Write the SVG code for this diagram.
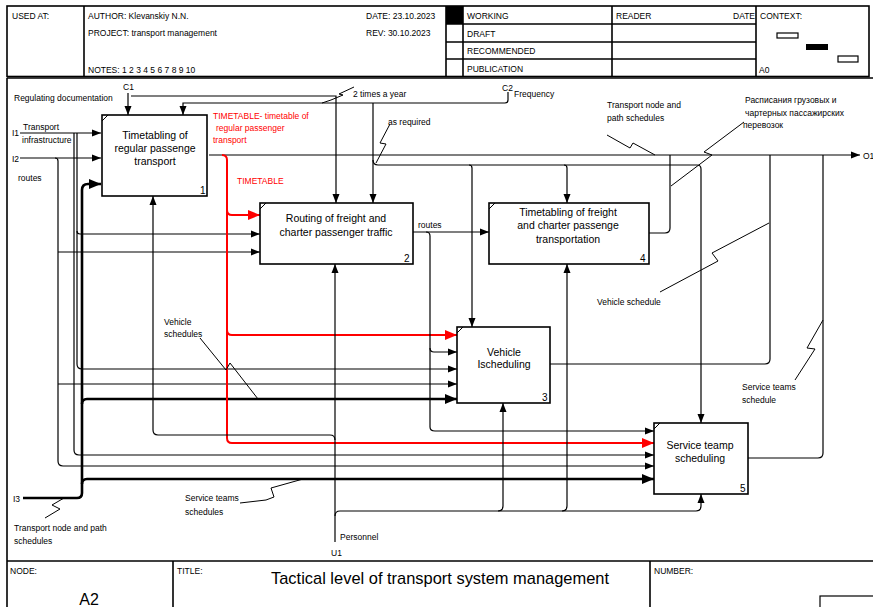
<svg xmlns="http://www.w3.org/2000/svg" width="873" height="607" viewBox="0 0 873 607">
<style>
text{font-family:"Liberation Sans",Arial,sans-serif;fill:#000}
.h{font-size:8.5px}
.s{font-size:8.5px}
.b{font-size:10.5px;text-anchor:middle}
.n{font-size:10px}
.red{fill:#f00}
.frame{fill:none;stroke:#000;stroke-width:1.6}
.box{fill:#fff;stroke:#000;stroke-width:1.6}
.c{fill:none;stroke:#000;stroke-width:1.2}
.t{fill:none;stroke:#000;stroke-width:2.6}
.r{fill:none;stroke:#f00;stroke-width:2}
.l{fill:none;stroke:#000;stroke-width:1}
</style>
<defs>
<marker id="a" markerWidth="9" markerHeight="8" refX="9" refY="4" orient="auto" markerUnits="userSpaceOnUse"><path d="M0,0.5 L9,4 L0,7.5 z" fill="#000"/></marker>
<marker id="at" markerWidth="12" markerHeight="10" refX="12" refY="5" orient="auto" markerUnits="userSpaceOnUse"><path d="M0,0 L12,5 L0,10 z" fill="#000"/></marker>
<marker id="ar" markerWidth="12" markerHeight="10" refX="12" refY="5" orient="auto" markerUnits="userSpaceOnUse"><path d="M0,0 L12,5 L0,10 z" fill="#f00"/></marker>
</defs>
<rect width="873" height="607" fill="#fff"/>
<g id="header">
<rect class="frame" x="7" y="6" width="862" height="70.5"/>
<line class="frame" x1="7" y1="78" x2="873" y2="78"/>
<line class="frame" x1="84" y1="6" x2="84" y2="77"/>
<line class="frame" x1="446" y1="6" x2="446" y2="77"/>
<line class="frame" x1="463" y1="6" x2="463" y2="77"/>
<line class="frame" x1="612" y1="6" x2="612" y2="77"/>
<line class="frame" x1="756" y1="6" x2="756" y2="77"/>
<line class="frame" x1="446" y1="24" x2="756" y2="24"/>
<line class="frame" x1="446" y1="42" x2="756" y2="42"/>
<line class="frame" x1="446" y1="59" x2="756" y2="59"/>
<rect x="446" y="6" width="17" height="18" fill="#000"/>
<text class="h" x="12" y="19">USED AT:</text>
<text class="h" x="88" y="19">AUTHOR:  Klevanskiy N.N.</text>
<text class="h" x="88" y="36">PROJECT:  transport management</text>
<text class="h" x="88" y="73">NOTES:  1  2  3  4  5  6  7  8  9  10</text>
<text class="h" x="366" y="19">DATE:  23.10.2023</text>
<text class="h" x="366" y="36">REV:    30.10.2023</text>
<text class="h" x="467" y="19">WORKING</text>
<text class="h" x="467" y="37">DRAFT</text>
<text class="h" x="467" y="54">RECOMMENDED</text>
<text class="h" x="467" y="72">PUBLICATION</text>
<text class="h" x="616" y="19">READER</text>
<text class="h" x="733" y="19">DATE</text>
<text class="h" x="760" y="19">CONTEXT:</text>
<text class="h" x="759" y="73">A0</text>
<rect x="777" y="33" width="21" height="5" fill="#fff" stroke="#000" stroke-width="1.2"/>
<rect x="806" y="44" width="22" height="6" fill="#000"/>
<rect x="838" y="56" width="20" height="6" fill="#fff" stroke="#000" stroke-width="1.2"/>
</g>
<g id="footer">
<line class="frame" x1="7" y1="78" x2="7" y2="607"/>
<line class="frame" x1="7" y1="561" x2="873" y2="561"/>
<line class="frame" x1="173" y1="561" x2="173" y2="607"/>
<line class="frame" x1="650" y1="561" x2="650" y2="607"/>
<text class="h" x="10" y="574">NODE:</text>
<text class="h" x="177" y="574">TITLE:</text>
<text class="h" x="654" y="574">NUMBER:</text>
<text x="440" y="584" font-size="17" text-anchor="middle" textLength="338" lengthAdjust="spacingAndGlyphs">Tactical level of  transport system management</text>
<text x="89" y="605" font-size="16" text-anchor="middle">A2</text>
<rect x="820" y="596" width="60" height="14" fill="#fff" stroke="#000" stroke-width="1.2"/>
</g>
<g id="connectors">
<!-- C1 -->
<path class="c" d="M128,93 V115" marker-end="url(#a)"/>
<path class="c" d="M131,96 H336 V203" marker-end="url(#a)"/>
<!-- C2 -->
<path class="c" d="M508,92 V100 Q508,103 505,103 H183 V115" marker-end="url(#a)"/>
<path class="c" d="M373,103 V203" marker-end="url(#a)"/>
<path class="c" d="M373,160 Q373,165 378,165 H697 Q701,165 701,169 V423" marker-end="url(#a)"/>
<path class="c" d="M469,165 Q472,165 472,168 V327" marker-end="url(#a)"/>
<path class="c" d="M564,165 Q567,165 567,168 V203" marker-end="url(#a)"/>
<!-- I1 -->
<path class="c" d="M20,133 H101" marker-end="url(#a)"/>
<path class="c" d="M74,133 V450 Q74,455 79,455 H654" marker-end="url(#a)"/>
<path class="c" d="M77,133 V364 Q77,369 82,369 H457" marker-end="url(#a)"/>
<path class="c" d="M77,231 Q77,234 80,234 H260" marker-end="url(#a)"/>
<!-- I2 -->
<path class="c" d="M20,158 H101" marker-end="url(#a)"/>
<path class="c" d="M55,158 Q58,158 58,161 V461 Q58,466 63,466 H654" marker-end="url(#a)"/>
<path class="c" d="M58,252 H260" marker-end="url(#a)"/>
<path class="c" d="M58,384 H457" marker-end="url(#a)"/>
<!-- I3 -->
<path class="t" d="M23,498 H77 Q82,498 82,493 V190 Q82,184 88,184 H101" marker-end="url(#at)"/>
<path class="t" d="M82,404 Q82,399 87,399 H457" marker-end="url(#at)"/>
<path class="t" d="M82,484 Q82,479 87,479 H654" marker-end="url(#at)"/>
<!-- O1 -->
<path class="c" d="M209,155 H860" marker-end="url(#a)"/>
<!-- TIMETABLE red -->
<path class="r" d="M222,155 Q227,155 227,160 V438 Q227,443 232,443 H654" marker-end="url(#ar)"/>
<path class="r" d="M227,210 Q227,215 232,215 H260" marker-end="url(#ar)"/>
<path class="r" d="M227,330 Q227,335 232,335 H457" marker-end="url(#ar)"/>
<!-- routes from box 2 -->
<path class="c" d="M413,232 H489" marker-end="url(#a)"/>
<path class="c" d="M426,232 Q430,232 430,236 V427 Q430,431 435,431 H654" marker-end="url(#a)"/>
<path class="c" d="M430,348 Q430,352 434,352 H457" marker-end="url(#a)"/>
<!-- outputs to O1 -->
<path class="c" d="M649,233 H665 Q670,233 670,228 V155"/>
<path class="c" d="M550,364 H765 Q770,364 770,359 V155"/>
<path class="c" d="M748,458 H818 Q823,458 823,453 V155"/>
<!-- U1 Personnel -->
<path class="c" d="M335,542 V264" marker-end="url(#a)"/>
<path class="c" d="M335,440 Q335,435 330,435 H158 Q153,435 153,430 V196" marker-end="url(#a)"/>
<path class="c" d="M335,516 Q335,511 340,511 H498 Q503,511 503,506 V403" marker-end="url(#a)"/>
<path class="c" d="M498,511 H562 Q567,511 567,506 V264" marker-end="url(#a)"/>
<path class="c" d="M562,511 H696 Q701,511 701,506 V494" marker-end="url(#a)"/>
<!-- leaders -->
<path class="l" d="M354,87 L339,94 L343,95 L331,100 L322,103"/>
<path class="l" d="M390,124 L380,143 L386,144 L376,163"/>
<path class="l" d="M607,135 L630,148 L633,143 L655,155"/>
<path class="l" d="M744,122 L704,152 L712,155 L671,186"/>
<path class="l" d="M660,292 L718,261 L712,253 L769,223"/>
<path class="l" d="M795,380 L815,349 L807,348 L823,320"/>
<path class="l" d="M200,338 L226,370 L230,363 L258,399"/>
<path class="l" d="M240,503 L266,500 L274,497 L271,488 L303,479"/>
<path class="l" d="M45,518 L60,509 L52,505 L64,498"/>
</g>
<g id="box1">
<rect class="box" x="102" y="115" width="105" height="81"/>
<line class="l" x1="102" y1="121" x2="108" y2="115"/>
<text class="b" x="155" y="139">Timetabling of</text>
<text class="b" x="155" y="152">regular passenge</text>
<text class="b" x="155" y="165">transport</text>
<text class="n" x="200" y="194">1</text>
</g>
<g id="box2">
<rect class="box" x="260" y="203" width="153" height="61"/>
<line class="l" x1="260" y1="209" x2="266" y2="203"/>
<text class="b" x="336" y="222">Routing of freight and</text>
<text class="b" x="336" y="236">charter passenger traffic</text>
<text class="n" x="404" y="262">2</text>
</g>
<g id="box4">
<rect class="box" x="489" y="203" width="160" height="61"/>
<line class="l" x1="489" y1="209" x2="495" y2="203"/>
<text class="b" x="568" y="216">Timetabling of freight</text>
<text class="b" x="568" y="229">and charter passenge</text>
<text class="b" x="568" y="243">transportation</text>
<text class="n" x="640" y="262">4</text>
</g>
<g id="box3">
<rect class="box" x="457" y="327" width="93" height="76"/>
<line class="l" x1="457" y1="333" x2="463" y2="327"/>
<text class="b" x="504" y="356">Vehicle</text>
<text class="b" x="504" y="368">Ischeduling</text>
<text class="n" x="542" y="401">3</text>
</g>
<g id="box5">
<rect class="box" x="654" y="423" width="94" height="71"/>
<line class="l" x1="654" y1="429" x2="660" y2="423"/>
<text class="b" x="700" y="449">Service teamp</text>
<text class="b" x="700" y="462">scheduling</text>
<text class="n" x="740" y="492">5</text>
</g>
<g id="labels">
<text class="s" x="14" y="101">Regulating documentation</text>
<text class="s" x="123" y="90">C1</text>
<text class="s" x="12" y="136">I1</text>
<text class="s" x="23" y="130">Transport</text>
<text class="s" x="22" y="143">infrastructure</text>
<text class="s" x="12" y="162">I2</text>
<text class="s" x="18" y="181">routes</text>
<text class="s" x="13" y="502">I3</text>
<text class="s" x="14" y="531">Transport node and path</text>
<text class="s" x="14" y="544">schedules</text>
<text class="s" x="353" y="97">2 times a year</text>
<text class="s" x="502" y="91">C2</text>
<text class="s" x="514" y="97">Frequency</text>
<text class="s" x="388" y="125">as required</text>
<text class="s red" x="213" y="119">TIMETABLE- timetable of</text>
<text class="s red" x="216" y="131">regular passenger</text>
<text class="s red" x="213" y="143">transport</text>
<text class="s red" x="237" y="184">TIMETABLE</text>
<text class="s" x="418" y="228">routes</text>
<text class="s" x="607" y="108">Transport node and</text>
<text class="s" x="607" y="121">path schedules</text>
<text class="s" x="745" y="103">Расписания грузовых и</text>
<text class="s" x="745" y="116">чартерных пассажирских</text>
<text class="s" x="743" y="128">перевозок</text>
<text class="s" x="863" y="159">O1</text>
<text class="s" x="597" y="305">Vehicle schedule</text>
<text class="s" x="164" y="325">Vehicle</text>
<text class="s" x="164" y="337">schedules</text>
<text class="s" x="742" y="390">Service teams</text>
<text class="s" x="742" y="403">schedule</text>
<text class="s" x="185" y="501">Service teams</text>
<text class="s" x="185" y="515">schedules</text>
<text class="s" x="340" y="540">Personnel</text>
<text class="s" x="331" y="556">U1</text>
</g>
</svg>
